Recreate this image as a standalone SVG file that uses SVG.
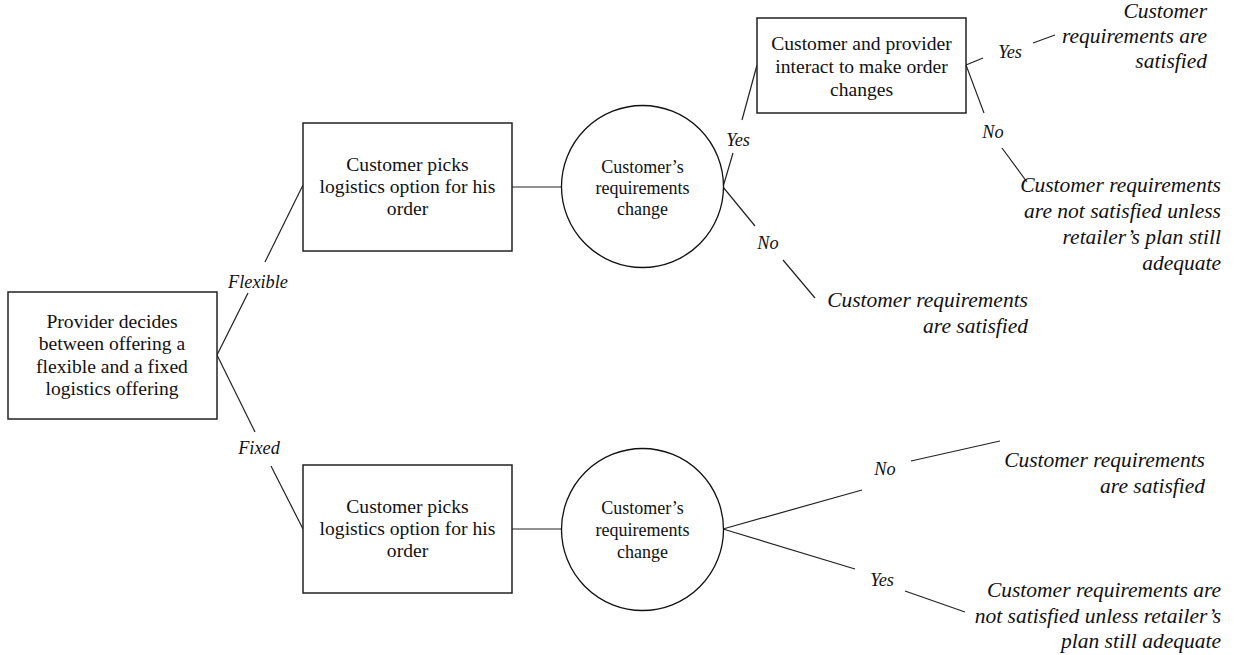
<svg xmlns="http://www.w3.org/2000/svg" width="1234" height="655" viewBox="0 0 1234 655">
<style>
.box{fill:#fff;stroke:#222;stroke-width:1.5}
.circ{fill:#fff;stroke:#111;stroke-width:1.3}
.ln{stroke:#222;stroke-width:1.2;fill:none}
.nt{font-family:"Liberation Serif","Times New Roman",serif;font-size:19.6px;fill:#111;text-anchor:middle}
.ct{font-family:"Liberation Serif","Times New Roman",serif;font-size:18px;fill:#111;text-anchor:middle}
.lb{font-family:"Liberation Serif","Times New Roman",serif;font-style:italic;font-size:18.3px;fill:#111;text-anchor:middle}
.ot{font-family:"Liberation Serif","Times New Roman",serif;font-style:italic;font-size:21.5px;fill:#111;text-anchor:end}
</style>
<rect width="1234" height="655" fill="#fff"/>
<g id="connectors">
<line class="ln" x1="217" y1="355" x2="248" y2="293"/>
<line class="ln" x1="265" y1="262" x2="303" y2="185"/>
<line class="ln" x1="217" y1="355" x2="255" y2="432"/>
<line class="ln" x1="271" y1="466" x2="303" y2="529"/>
<line class="ln" x1="512" y1="187" x2="561" y2="187"/>
<line class="ln" x1="512" y1="529" x2="562" y2="529"/>
<line class="ln" x1="723" y1="187" x2="733" y2="153"/>
<line class="ln" x1="742" y1="120" x2="757" y2="65"/>
<line class="ln" x1="723" y1="187" x2="755" y2="226"/>
<line class="ln" x1="783" y1="260" x2="815" y2="298"/>
<line class="ln" x1="966" y1="65" x2="983" y2="58"/>
<line class="ln" x1="1033" y1="43" x2="1055" y2="35"/>
<line class="ln" x1="966" y1="65" x2="984" y2="113"/>
<line class="ln" x1="1002" y1="148" x2="1027" y2="182"/>
<line class="ln" x1="723" y1="529" x2="862" y2="490"/>
<line class="ln" x1="911" y1="461" x2="1000" y2="441"/>
<line class="ln" x1="723" y1="529" x2="855" y2="569"/>
<line class="ln" x1="905" y1="591" x2="965" y2="612"/>
<text class="lb" x="258" y="288">Flexible</text>
<text class="lb" x="259" y="454">Fixed</text>
<text class="lb" x="738" y="146">Yes</text>
<text class="lb" x="768" y="249">No</text>
<text class="lb" x="1010" y="58">Yes</text>
<text class="lb" x="993" y="138">No</text>
<text class="lb" x="885" y="475">No</text>
<text class="lb" x="882" y="586">Yes</text>
</g>
<g id="root">
<rect class="box" x="8" y="292" width="209" height="127"/>
<text class="nt" x="112" y="327.5">Provider decides</text>
<text class="nt" x="112" y="350">between offering a</text>
<text class="nt" x="112" y="372.5">flexible and a fixed</text>
<text class="nt" x="112" y="395">logistics offering</text>
</g>
<g id="pick-flexible">
<rect class="box" x="303" y="123" width="209" height="128"/>
<text class="nt" x="407.5" y="171">Customer picks</text>
<text class="nt" x="407.5" y="193">logistics option for his</text>
<text class="nt" x="407.5" y="215">order</text>
</g>
<g id="change-flexible">
<circle class="circ" cx="642.5" cy="186.5" r="81"/>
<text class="ct" x="642.5" y="173">Customer’s</text>
<text class="ct" x="642.5" y="194">requirements</text>
<text class="ct" x="642.5" y="215">change</text>
</g>
<g id="interact">
<rect class="box" x="757" y="18" width="209" height="95"/>
<text class="nt" x="861.5" y="50">Customer and provider</text>
<text class="nt" x="861.5" y="73">interact to make order</text>
<text class="nt" x="861.5" y="96">changes</text>
</g>
<g id="out-flex-yes-yes">
<text class="ot" x="1207" y="18">Customer</text>
<text class="ot" x="1207" y="43">requirements are</text>
<text class="ot" x="1207" y="68">satisfied</text>
</g>
<g id="out-flex-yes-no">
<text class="ot" x="1221" y="192">Customer requirements</text>
<text class="ot" x="1221" y="218">are not satisfied unless</text>
<text class="ot" x="1221" y="244">retailer’s plan still</text>
<text class="ot" x="1221" y="270">adequate</text>
</g>
<g id="out-flex-no">
<text class="ot" x="1028" y="307">Customer requirements</text>
<text class="ot" x="1028" y="333">are satisfied</text>
</g>
<g id="pick-fixed">
<rect class="box" x="303" y="465" width="209" height="128"/>
<text class="nt" x="407.5" y="513">Customer picks</text>
<text class="nt" x="407.5" y="535">logistics option for his</text>
<text class="nt" x="407.5" y="557">order</text>
</g>
<g id="change-fixed">
<circle class="circ" cx="642.5" cy="529.5" r="81"/>
<text class="ct" x="642.5" y="514">Customer’s</text>
<text class="ct" x="642.5" y="536">requirements</text>
<text class="ct" x="642.5" y="558">change</text>
</g>
<g id="out-fixed-no">
<text class="ot" x="1205" y="467">Customer requirements</text>
<text class="ot" x="1205" y="493">are satisfied</text>
</g>
<g id="out-fixed-yes">
<text class="ot" x="1221" y="597">Customer requirements are</text>
<text class="ot" x="1221" y="623">not satisfied unless retailer’s</text>
<text class="ot" x="1221" y="648">plan still adequate</text>
</g>
</svg>
